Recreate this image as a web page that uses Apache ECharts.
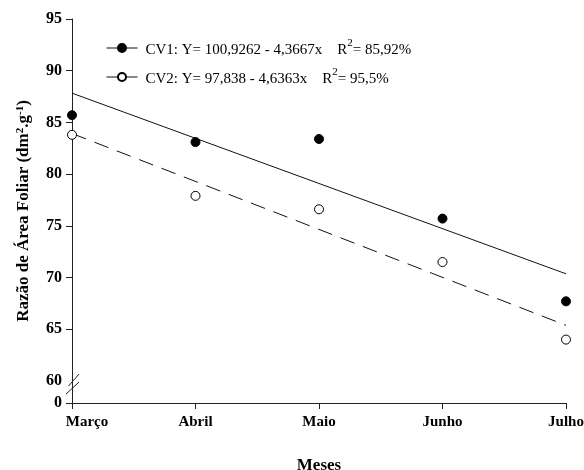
<!DOCTYPE html>
<html>
<head>
<meta charset="utf-8">
<script src="https://cdn.jsdelivr.net/npm/echarts@6/dist/echarts.min.js"></script>
<style>
html,body{margin:0;padding:0;background:#fff;}
#main{width:584px;height:470px;}
</style>
</head>
<body>
<div id="main"></div>
<script>
// ---- data ----
const months = ['Março', 'Abril', 'Maio', 'Junho', 'Julho'];
const monthX = [3, 4, 5, 6, 7];
const cv1Values = [85.7, 83.1, 83.4, 75.7, 67.7];
const cv2Values = [83.8, 77.9, 76.6, 71.5, 64.0];
// fitted regression lines (values at Março and Julho)
const fitX = [3, 7];
const cv1Fit = [87.83, 70.36];
const cv2Fit = [83.93, 65.38];
const yTicks = [60, 65, 70, 75, 80, 85, 90, 95];
const yBreakBottom = 57.87;   // axis bottom, labelled "0" (broken axis)
const yBottomLabel = '0';
const yMax = 95;

const legendText = {
  'CV1': '{t|CV1: Y= 100,9262 - 4,3667x    R}{s|2}{t|= 85,92%}',
  'CV2': '{t|CV2: Y= 97,838 - 4,6363x    R}{s|2}{t|= 95,5%}'
};

const serif = 'Liberation Serif';
const chart = echarts.init(document.getElementById('main'), null, {renderer: 'canvas'});

const pairs = (xs, ys) => xs.map((x, i) => [x, ys[i]]);
const xLabelFont = {fontFamily: serif, fontWeight: 'bold', fontSize: 15, color: '#000'};

const option = {
  animation: false,
  backgroundColor: '#fff',
  grid: {left: 72, right: 18, top: 19, bottom: 67, containLabel: false, outerBoundsMode: 'none'},
  legend: {
    show: true,
    orient: 'vertical',
    left: 101,
    top: 33,
    itemWidth: 31,
    itemHeight: 10,
    itemGap: 9,
    selectedMode: false,
    data: [
      {name: 'CV1'},
      {name: 'CV2', lineStyle: {type: 'solid'}}
    ],
    lineStyle: {type: 'solid', width: 1},
    formatter: n => legendText[n],
    textStyle: {
      color: '#000',
      fontFamily: serif,
      fontSize: 15,
      padding: [0, 0, 0, 3],
      rich: {
        t: {fontFamily: serif, fontSize: 15, color: '#000', lineHeight: 20, verticalAlign: 'bottom'},
        s: {fontFamily: serif, fontSize: 11, color: '#000', lineHeight: 11, verticalAlign: 'top'}
      }
    }
  },
  xAxis: {
    type: 'value',
    min: 3, max: 7, interval: 1,
    name: 'Meses',
    nameLocation: 'middle',
    nameGap: 54,
    nameTextStyle: {fontFamily: serif, fontWeight: 'bold', fontSize: 17, color: '#000'},
    splitLine: {show: false},
    axisLine: {show: true, lineStyle: {color: '#222', width: 1}},
    axisTick: {show: true, length: 6, lineStyle: {color: '#222'}},
    axisLabel: Object.assign({
      margin: 12,
      formatter: v => {
        const i = monthX.indexOf(v);
        if (i < 0) return '';
        return i === 0 ? '{f|' + months[i] + '}' : months[i];
      },
      rich: {f: Object.assign({padding: [0, 0, 0, 30]}, xLabelFont)}
    }, xLabelFont)
  },
  yAxis: {
    type: 'value',
    min: yBreakBottom, max: yMax,
    name: 'Razão de Área Foliar (dm{s|2}.g{s|-1})',
    nameLocation: 'middle',
    nameGap: 40,
    nameRotate: 90,
    nameTextStyle: {
      fontFamily: serif, fontWeight: 'bold', fontSize: 17, color: '#000',
      rich: {
        s: {fontFamily: serif, fontWeight: 'bold', fontSize: 11, color: '#000', verticalAlign: 'top', lineHeight: 11},
      }
    },
    splitLine: {show: false},
    axisLine: {show: true, lineStyle: {color: '#222', width: 1}},
    axisTick: {show: true, length: 6, lineStyle: {color: '#222'},
      customValues: [yBreakBottom].concat(yTicks.filter(v => v !== 60))},
    axisLabel: {
      margin: 10,
      fontFamily: serif, fontWeight: 'bold', fontSize: 16, color: '#000',
      customValues: [yBreakBottom].concat(yTicks),
      formatter: v => (v === yBreakBottom ? yBottomLabel : String(v))
    }
  },
  series: [
    {
      name: 'CV1', type: 'line',
      data: pairs(fitX, cv1Fit),
      showSymbol: false, symbol: 'circle',
      lineStyle: {color: '#111', width: 1, type: 'solid'},
      itemStyle: {color: '#000', borderColor: '#000', borderWidth: 1},
      z: 2
    },
    {
      name: 'CV2', type: 'line',
      data: pairs(fitX, cv2Fit),
      showSymbol: false, symbol: 'circle',
      lineStyle: {color: '#111', width: 1, type: [15, 9]},
      itemStyle: {color: '#fff', borderColor: '#000', borderWidth: 1},
      z: 2
    },
    {
      name: 'CV1 pontos', type: 'scatter',
      data: pairs(monthX, cv1Values),
      symbol: 'circle', symbolSize: 9,
      itemStyle: {color: '#000', borderColor: '#000', borderWidth: 1, opacity: 1},
      z: 3
    },
    {
      name: 'CV2 pontos', type: 'scatter',
      data: pairs(monthX, cv2Values),
      symbol: 'circle', symbolSize: 9,
      itemStyle: {color: '#fff', borderColor: '#000', borderWidth: 1, opacity: 1},
      z: 3
    }
  ]
};
chart.setOption(option);

// axis break marks (two slashes on the y axis just below 60)
const p = chart.convertToPixel({gridIndex: 0}, [3, 59.7]);
const bx = p[0], by = p[1];
chart.setOption({
  graphic: [
    {type: 'line', shape: {x1: bx - 3.5, y1: by + 2, x2: bx + 7, y2: by - 10}, style: {stroke: '#222', lineWidth: 1}, z: 10},
    {type: 'line', shape: {x1: bx - 6, y1: by + 10, x2: bx + 7, y2: by - 2}, style: {stroke: '#222', lineWidth: 1}, z: 10}
  ]
});
</script>
</body>
</html>
